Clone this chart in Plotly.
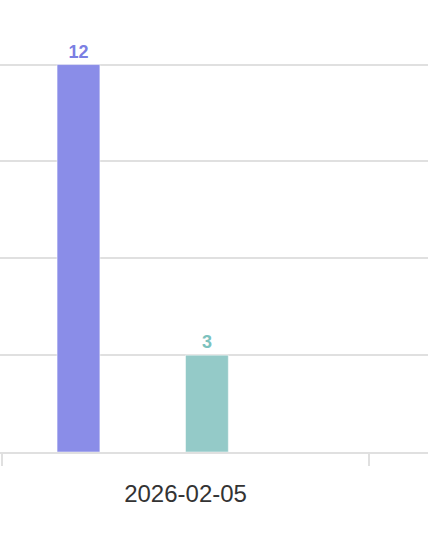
import plotly.graph_objects as go

# Данные
dates = ["2026-02-05"]
series_names = ["Серия 1", "Серия 2", "Серия 3", "Серия 4", "Серия 5", "Серия 6"]
series_values = [[12], [None], [None], [3], [None], [None]]
series_colors = ["#8a8de8", "#f2b37a", "#e88a9a", "#94cac8", "#9ac87a", "#c8a0e0"]
label_colors = ["#7b7fe3", "#e8a060", "#e07080", "#7cc2be", "#80b860", "#b080d8"]

fig = go.Figure()
for name, vals, col, lcol in zip(series_names, series_values, series_colors, label_colors):
    fig.add_trace(go.Bar(
        x=dates,
        y=vals,
        name=name,
        marker=dict(color=col, line=dict(color="rgba(255,255,255,0.5)", width=1)),
        text=vals,
        textposition="outside",
        constraintext="none",
        textfont=dict(size=18, color=lcol, family="Liberation Sans", weight="bold"),
        cliponaxis=False,
    ))

# Вид осей и фона
fig.update_layout(
    width=428,
    height=536,
    margin=dict(l=0, r=0, t=0, b=84),
    barmode="group",
    bargap=0.3,
    bargroupgap=0,
    showlegend=False,
    plot_bgcolor="white",
    paper_bgcolor="white",
    font=dict(family="Liberation Sans", size=24, color="#333333"),
)
fig.update_xaxes(
    type="category",
    range=[-0.5055, 0.6607],
    showgrid=False,
    showline=True,
    linecolor="#e0e0e0",
    linewidth=2,
    ticks="outside",
    tickson="boundaries",
    ticklen=12,
    tickwidth=2,
    tickcolor="#e0e0e0",
    ticklabelstandoff=19,
    tickfont=dict(size=24, color="#333333"),
)
fig.update_yaxes(
    range=[0, 14],
    dtick=3,
    showgrid=True,
    gridcolor="#e0e0e0",
    gridwidth=1.5,
    zeroline=False,
    showticklabels=False,
)

# убираем отступ body, чтобы график начинался с левого верхнего угла
fig.write_html(
    "out.html",
    config={"displayModeBar": False},
    post_script="document.body.style.margin='0px';",
)
